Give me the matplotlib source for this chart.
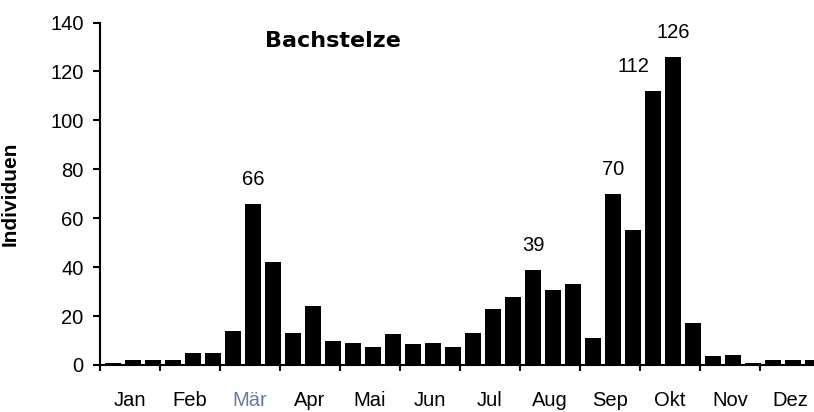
import numpy as np
import matplotlib
matplotlib.use("Agg")
import matplotlib.pyplot as plt

plt.rcParams['font.family'] = ['Liberation Sans', 'DejaVu Sans']

# Bachstelze counts per decade (3 per month)
months = ["Jan", "Feb", "Mär", "Apr", "Mai", "Jun",
          "Jul", "Aug", "Sep", "Okt", "Nov", "Dez"]
counts = [1, 2, 2, 2, 5, 5, 14, 66, 42, 13, 24, 10,
          9, 7.5, 12.5, 8.5, 9, 7.5, 13, 23, 28, 39, 30.5, 33,
          11, 70, 55, 112, 126, 17, 3.5, 4.2, 1, 2, 2, 2]
labelled = {7: 66, 21: 39, 25: 70, 27: 112, 28: 126}
label_shift = {27: -14}

fig = plt.figure(figsize=(8.14, 4.12), dpi=100)
ax = fig.add_axes([100 / 814, 47 / 412, 720 / 814, 342.5 / 412])

x = np.arange(len(counts)) + 0.65
ax.bar(x, counts, width=0.8, color="black")

for i, v in labelled.items():
    ax.annotate(str(v), (x[i], counts[i]), xytext=(label_shift.get(i, 0), 13.5),
                textcoords="offset points", ha="center", va="baseline", fontsize=14.5)

ax.set_xlim(0, 36)
ax.set_ylim(0, 140)
ax.set_yticks(range(0, 141, 20))
ax.set_xticks(range(0, 37, 3))
ax.set_xticklabels([])
ax.set_xticks(np.arange(1.5, 36, 3), minor=True)
ax.set_xticklabels(months, minor=True)
ax.tick_params(axis="x", which="minor", length=0, pad=19, labelsize=14.5)
ax.tick_params(axis="x", which="major", length=4.5, width=1.5, direction="out")
ax.tick_params(axis="y", length=4.8, width=1.5, pad=7, labelsize=14.5)
for lbl in ax.get_xticklabels(minor=True):
    if lbl.get_text() == "Mär":
        lbl.set_color("#6b7a99")

for s in ["top", "right"]:
    ax.spines[s].set_visible(False)
for s in ["left", "bottom"]:
    ax.spines[s].set_linewidth(1.5)

ax.set_ylabel("Individuen", fontsize=15, fontweight="bold")
ax.yaxis.set_label_coords(-0.111, 0.5)
ax.text(0.324, 0.928, "Bachstelze", transform=ax.transAxes, ha="center", va="baseline",
        fontsize=16, fontweight="bold", family="DejaVu Sans")

fig.savefig("out.png", dpi=100)
